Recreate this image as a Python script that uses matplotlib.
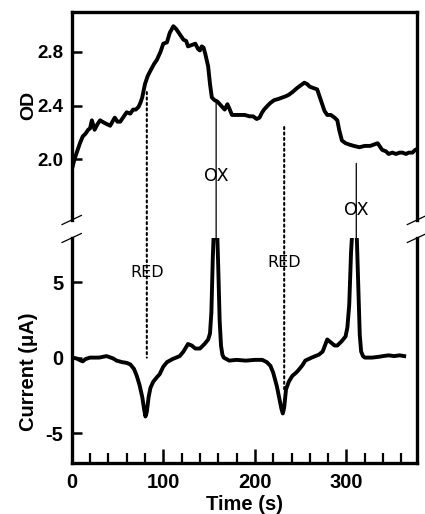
import matplotlib
matplotlib.use('Agg')
from matplotlib import pyplot as plt
from matplotlib.patches import ConnectionPatch
import numpy as np

plt.rcParams['font.family'] = ['Liberation Sans', 'DejaVu Sans']
plt.rcParams['axes.unicode_minus'] = False

# optical density trace (top panel)
od_time = [0, 3, 5.5, 9, 12, 15, 18, 20, 22, 25, 28, 31, 36, 42, 47, 50, 53, 57, 60, 64, 67, 70,
           73, 75, 77, 80, 83, 86, 90, 93, 97, 100, 104, 107, 111, 114, 116, 119, 122, 125, 127,
           131, 135, 138, 140, 142, 144, 146, 149, 151, 153, 156, 159, 163, 167, 170, 172, 175,
           180, 185, 189, 194, 198, 202, 205, 208, 210, 214, 217, 221, 226, 230, 234, 237, 241,
           246, 250, 254, 257, 260, 264, 268, 270, 273, 276, 279, 283, 287, 290, 292, 295, 299,
           303, 308, 314, 320, 326, 330, 334, 337, 339, 343, 346, 350, 354, 358, 361, 365, 368,
           372, 375, 378]
od = [1.92, 2.0, 2.05, 2.12, 2.17, 2.19, 2.22, 2.23, 2.29, 2.22, 2.26, 2.29, 2.27, 2.25, 2.31,
      2.28, 2.28, 2.32, 2.35, 2.34, 2.37, 2.37, 2.39, 2.42, 2.46, 2.56, 2.62, 2.66, 2.71, 2.74,
      2.8, 2.86, 2.87, 2.94, 2.99, 2.97, 2.95, 2.92, 2.89, 2.88, 2.84, 2.85, 2.86, 2.82, 2.81,
      2.84, 2.83, 2.78, 2.69, 2.56, 2.46, 2.44, 2.43, 2.40, 2.37, 2.41, 2.38, 2.33, 2.33, 2.33,
      2.33, 2.32, 2.32, 2.30, 2.31, 2.35, 2.37, 2.40, 2.42, 2.44, 2.45, 2.46, 2.47, 2.48, 2.50,
      2.53, 2.55, 2.57, 2.56, 2.54, 2.53, 2.52, 2.48, 2.42, 2.36, 2.33, 2.33, 2.31, 2.29, 2.22,
      2.14, 2.12, 2.11, 2.10, 2.09, 2.10, 2.10, 2.11, 2.12, 2.09, 2.07, 2.06, 2.04, 2.05, 2.04,
      2.05, 2.05, 2.04, 2.05, 2.05, 2.07, 2.08]

# current trace (bottom panel), peaks run off the top of the axis
cur_time = [0, 5, 10, 12, 15, 20, 30, 38, 45, 49, 55, 60, 64, 68, 71, 74, 77, 79, 80.5, 82,
            84, 86, 89, 93, 96, 100, 104, 110, 118, 122, 127, 131, 135, 140, 145, 149, 151,
            152.5, 154, 155.5, 157, 158.5, 160, 161.5, 163, 164.5, 166, 172, 180, 190, 200,
            208, 213, 217, 220, 224, 227, 229, 230.5, 232, 234, 237, 241, 245, 248, 252, 255,
            262, 270, 274, 279, 283, 287, 290, 295, 299, 301, 303, 305, 307, 309, 311, 313,
            314.5, 316, 318, 320, 328, 335, 340, 346, 352, 358, 363]
current = [0.0, -0.05, -0.2, -0.25, -0.1, 0.0, 0.0, 0.1, -0.05, -0.2, -0.3, -0.35, -0.45,
           -0.75, -1.2, -1.8, -2.6, -3.4, -3.9, -3.6, -2.6, -2.0, -1.6, -1.3, -1.1, -0.6, -0.3,
           -0.1, 0.1, 0.4, 0.9, 0.8, 0.6, 0.6, 0.9, 1.2, 1.6, 3.0, 6.5, 9.0, 9.5, 9.0, 6.0,
           2.5, 0.8, 0.2, 0.0, -0.2, -0.15, -0.2, -0.15, -0.15, -0.3, -0.55, -1.0, -1.9, -2.8,
           -3.4, -3.7, -3.3, -2.1, -1.6, -1.2, -1.0, -0.8, -0.5, -0.2, 0.0, 0.2, 0.4, 1.2, 1.0,
           0.8, 0.8, 1.1, 1.4, 2.0, 3.5, 7.0, 9.0, 9.5, 8.5, 4.5, 1.5, 0.4, 0.1, 0.0, 0.0,
           0.05, 0.1, 0.15, 0.1, 0.15, 0.1]

x_ticks_major = [0, 100, 200, 300]
od_ticks = [2.0, 2.4, 2.8]
cur_ticks = [-5, 0, 5]

# RED marks (dotted) and OX marks (solid): time, OD end, current end, label height
red_time = [82, 232]
red_od = [2.50, 2.24]
red_cur = [0.0, -2.3]
red_label_y = [5.65, 6.3]
ox_time = [157.7, 310.7]
ox_od = [2.44, 1.97]
ox_cur = [7.9, 7.9]
ox_label_y = [1.876, 1.62]

fig = plt.figure(figsize=(4.25, 5.14), dpi=100)
ax_od = fig.add_axes([0.1687, 0.572, 0.8125, 0.405])
ax_cur = fig.add_axes([0.1687, 0.0986, 0.8125, 0.4384], sharex=ax_od)

ax_od.plot(od_time, od, color='black', lw=2.8, solid_joinstyle='round')
ax_cur.plot(cur_time, current, color='black', lw=2.8, solid_joinstyle='round')

ax_od.set_xlim(0, 377)
ax_od.set_ylim(1.549, 3.097)
ax_cur.set_ylim(-7, 7.92)

for ax in (ax_od, ax_cur):
    for s in ax.spines.values():
        s.set_linewidth(2.4)
ax_od.spines['bottom'].set_visible(False)
ax_cur.spines['top'].set_visible(False)

ax_od.set_yticks(od_ticks)
ax_od.set_yticklabels(['%.1f' % v for v in od_ticks])
ax_od.tick_params(axis='y', direction='in', length=7, width=1.8, pad=6,
                  labelsize=13.5, right=False)
ax_od.tick_params(axis='x', which='both', bottom=False, labelbottom=False, top=False)
for lab in ax_od.get_yticklabels():
    lab.set_fontweight('bold')

ax_cur.set_yticks(cur_ticks)
ax_cur.tick_params(axis='y', direction='in', length=7, width=1.8, pad=6,
                   labelsize=14.5, right=False)
ax_cur.set_xticks(x_ticks_major)
ax_cur.set_xticks(np.arange(20, 377, 20), minor=True)
ax_cur.tick_params(axis='x', which='major', direction='in', length=10, width=1.8,
                   pad=7, labelsize=14.5, top=False)
ax_cur.tick_params(axis='x', which='minor', direction='in', length=7.5, width=1.6,
                   top=False)
for lab in ax_cur.get_yticklabels() + ax_cur.get_xticklabels():
    lab.set_fontweight('bold')

# break marks on both sides of the split y axis
kw = dict(color='black', lw=0.9, clip_on=False)
for ax, yb in ((ax_od, 0.0), (ax_cur, 1.0)):
    for xs in (0.0, 1.0):
        tr = ax.transAxes
        dx = 0.028
        dy = 0.022 if ax is ax_od else 0.02
        ax.plot([xs - dx, xs + dx], [yb - dy, yb + dy], transform=tr, **kw)

# RED: dotted guide lines with text sitting in a gap
for t, o, c, ly in zip(red_time, red_od, red_cur, red_label_y):
    con = ConnectionPatch(xyA=(t, o), coordsA=ax_od.transData,
                          xyB=(t, c), coordsB=ax_cur.transData,
                          color='black', lw=1.5, linestyle=(0, (1, 1.6)), zorder=1)
    fig.add_artist(con)
    ax_cur.text(t, ly, 'RED', ha='center', va='center', fontsize=11.5,
                family=['DejaVu Sans'], zorder=5,
                bbox=dict(facecolor='white', edgecolor='none', pad=5))

# OX: thin solid lines from the OD trace down to the current peak
for t, o, c, ly in zip(ox_time, ox_od, ox_cur, ox_label_y):
    con = ConnectionPatch(xyA=(t, o), coordsA=ax_od.transData,
                          xyB=(t, c), coordsB=ax_cur.transData,
                          color='black', lw=0.9, zorder=1)
    fig.add_artist(con)
    ax_od.text(t, ly, 'OX', ha='center', va='center', fontsize=12.5,
               family=['DejaVu Sans'], zorder=5,
               bbox=dict(facecolor='white', edgecolor='none', pad=5))

fig.text(29 / 425, 1 - 105 / 514, 'OD', rotation=90, ha='center', va='center',
         fontsize=14, fontweight='bold')
fig.text(29 / 425, 1 - 372 / 514, 'Current (\u03bcA)', rotation=90, ha='center',
         va='center', fontsize=14.5, fontweight='bold')
fig.text(244 / 425, 1 - 504 / 514, 'Time (s)', ha='center', va='center',
         fontsize=14.5, fontweight='bold')

fig.savefig('out.png', dpi=100)
